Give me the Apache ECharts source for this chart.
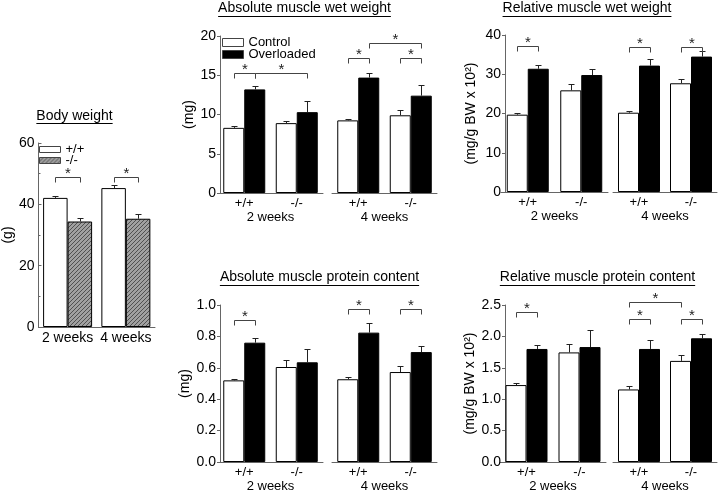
<!DOCTYPE html>
<html><head><meta charset="utf-8">
<script src="https://cdn.jsdelivr.net/npm/echarts@6/dist/echarts.min.js"></script>
<style>html,body{margin:0;padding:0;background:#fff}#c{width:722px;height:495px}</style>
</head><body><div id="c"></div>
<script>
const FONT = '"Liberation Sans", Arial, sans-serif';

// ---------- DATA ----------
const bwCategories = ['2 weeks', '4 weeks'];
const bwWT = [42.1, 45.3];
const bwWTErr = [0.7, 1.0];
const bwKO = [34.4, 35.3];
const bwKOErr = [1.3, 1.4];
const bwBrackets = [[0, 0, 0, 1, 48.9], [1, 0, 1, 1, 48.9]];

const genotypes = ['+/+', '-/-'];
const weekLabels = ['2 weeks', '4 weeks'];

const absWet2wkCtrl = [8.3, 8.9],   absWet2wkCtrlErr = [0.2, 0.3];
const absWet2wkOvl  = [13.2, 10.3], absWet2wkOvlErr  = [0.4, 1.4];
const absWet4wkCtrl = [9.25, 9.9],  absWet4wkCtrlErr = [0.15, 0.65];
const absWet4wkOvl  = [14.7, 12.4], absWet4wkOvlErr  = [0.6, 1.3];
const absWet2wkBrackets = [[0, 0, 0, 1, 15.3], [0, 1, 1, 1, 15.3]];
const absWet4wkBrackets = [[0, 0, 0, 1, 17.15], [1, 0, 1, 1, 17.15], [0, 1, 1, 1, 19.15]];

const relWet2wkCtrl = [19.7, 25.9], relWet2wkCtrlErr = [0.4, 1.5];
const relWet2wkOvl  = [31.4, 29.8], relWet2wkOvlErr  = [1.0, 1.6];
const relWet4wkCtrl = [20.2, 27.7], relWet4wkCtrlErr = [0.4, 1.2];
const relWet4wkOvl  = [32.2, 34.5], relWet4wkOvlErr  = [1.6, 1.4];
const relWet2wkBrackets = [[0, 0, 0, 1, 37.2]];
const relWet4wkBrackets = [[0, 0, 0, 1, 36.9], [1, 0, 1, 1, 36.9]];

const absProt2wkCtrl = [0.52, 0.605], absProt2wkCtrlErr = [0.01, 0.045];
const absProt2wkOvl  = [0.76, 0.635], absProt2wkOvlErr  = [0.03, 0.085];
const absProt4wkCtrl = [0.527, 0.573], absProt4wkCtrlErr = [0.016, 0.04];
const absProt4wkOvl  = [0.824, 0.70], absProt4wkOvlErr  = [0.06, 0.04];
const absProt2wkBrackets = [[0, 0, 0, 1, 0.904]];
const absProt4wkBrackets = [[0, 0, 0, 1, 0.975], [1, 0, 1, 1, 0.975]];

const relProt2wkCtrl = [1.225, 1.745], relProt2wkCtrlErr = [0.03, 0.14];
const relProt2wkOvl  = [1.80, 1.83],   relProt2wkOvlErr  = [0.07, 0.27];
const relProt4wkCtrl = [1.155, 1.61],  relProt4wkCtrlErr = [0.05, 0.09];
const relProt4wkOvl  = [1.80, 1.97],   relProt4wkOvlErr  = [0.14, 0.065];
const relProt2wkBrackets = [[0, 0, 0, 1, 2.39]];
const relProt4wkBrackets = [[0, 0, 0, 1, 2.27], [1, 0, 1, 1, 2.27], [0, 0, 1, 0, 2.54]];

const titles = ['Body weight', 'Absolute muscle wet weight', 'Relative muscle wet weight',
                'Absolute muscle protein content', 'Relative muscle protein content'];

// ---------- HELPERS ----------
function makeHatch() {
  const c = document.createElement('canvas'); c.width = 4; c.height = 4;
  const g = c.getContext('2d');
  g.fillStyle = '#a0a0a0'; g.fillRect(0, 0, 4, 4);
  g.strokeStyle = '#505050'; g.lineWidth = 1;
  g.beginPath();
  g.moveTo(0, 4); g.lineTo(4, 0);
  g.moveTo(-1, 1); g.lineTo(1, -1);
  g.moveTo(3, 5); g.lineTo(5, 3);
  g.stroke();
  return c;
}
const hatch = { image: makeHatch(), repeat: 'repeat' };

function measure(text, font) {
  const c = document.createElement('canvas').getContext('2d');
  c.font = font; return c.measureText(text).width;
}

function errRender(bw) {
  return function (params, api) {
    const cat = api.value(0), v = api.value(1), e = api.value(2), b = api.value(3);
    const p0 = api.coord([cat, v]), p1 = api.coord([cat, v + e]);
    const x = Math.round(p0[0] + (b === 0 ? -1 : 1) * bw / 2) + 0.5;
    const y1 = Math.round(p1[1]) + 0.5;
    return { type: 'group', children: [
      { type: 'line', shape: { x1: x, y1: p0[1], x2: x, y2: y1 }, style: { stroke: '#222', lineWidth: 1 } },
      { type: 'line', shape: { x1: x - 3, y1: y1, x2: x + 3, y2: y1 }, style: { stroke: '#222', lineWidth: 1 } }
    ] };
  };
}
function bracketRender(bw) {
  return function (params, api) {
    const ca = api.value(0), ba = api.value(1), cb = api.value(2), bb = api.value(3), y = api.value(4);
    const pa = api.coord([ca, y]), pb = api.coord([cb, y]);
    const xa = Math.round(pa[0] + (ba === 0 ? -1 : 1) * bw / 2) + 0.5;
    const xb = Math.round(pb[0] + (bb === 0 ? -1 : 1) * bw / 2) + 0.5;
    const yy = Math.round(pa[1]) + 0.5;
    return { type: 'group', children: [
      { type: 'polyline', shape: { points: [[xa, yy + 5], [xa, yy], [xb, yy], [xb, yy + 5]] },
        style: { stroke: '#444', fill: null, lineWidth: 1 } },
      { type: 'text', style: { text: '*', x: (xa + xb) / 2, y: yy - 11, align: 'center', verticalAlign: 'top',
        font: '15px ' + FONT, fill: '#222' } }
    ] };
  };
}

const grids = [], xAxes = [], yAxes = [], series = [];

function addPart(o) {
  const gi = grids.length;
  grids.push(Object.assign({ containLabel: false }, o.grid));
  xAxes.push({
    type: 'category', gridIndex: gi, data: o.cats,
    axisLine: { lineStyle: { color: '#666', width: 1 } },
    axisTick: { show: false },
    axisLabel: { interval: 0, color: '#000', fontSize: o.xFont || 13, fontFamily: FONT, margin: o.xMargin || 4 },
    name: o.xName || '', nameLocation: 'middle', nameGap: 15,
    nameTextStyle: { color: '#000', fontSize: 13, fontFamily: FONT }
  });
  yAxes.push({
    type: 'value', gridIndex: gi, min: o.min, max: o.max, interval: o.interval, show: o.showY,
    offset: o.yOffset || 0,
    splitLine: { show: false },
    axisLine: { show: true, lineStyle: { color: '#666', width: 1 } },
    axisTick: { show: true, inside: !!o.tickInside, length: 3, lineStyle: { color: '#666' } },
    minorTick: { show: !!o.minor, splitNumber: 2, length: 2, lineStyle: { color: '#666' } },
    axisLabel: { color: '#000', fontSize: 14, fontFamily: FONT, margin: 4,
      formatter: o.decimals ? (v => v.toFixed(o.decimals)) : (v => String(v)) },
    name: o.yName || '', nameLocation: 'middle', nameGap: o.yNameGap || 23,
    nameTextStyle: { color: '#000', fontSize: 14, fontFamily: FONT }
  });
  const bw = o.barWidth;
  const names = o.names || ['Control', 'Overloaded'];
  const fills = o.fills || ['#fff', '#000'];
  [0, 1].forEach(k => {
    series.push({
      type: 'bar', name: names[k], xAxisIndex: gi, yAxisIndex: gi, data: o.vals[k],
      barWidth: bw, barGap: '0%', silent: true,
      itemStyle: { color: fills[k], borderColor: '#000', borderWidth: 1 }
    });
  });
  const errData = [];
  [0, 1].forEach(k => o.vals[k].forEach((v, i) => errData.push([i, v, o.errs[k][i], k])));
  series.push({ type: 'custom', xAxisIndex: gi, yAxisIndex: gi, data: errData, renderItem: errRender(bw),
    encode: { x: 0, y: 1 }, silent: true, z: 3 });
  series.push({ type: 'custom', xAxisIndex: gi, yAxisIndex: gi, data: o.brackets, renderItem: bracketRender(bw),
    encode: { x: 0, y: 4 }, silent: true, clip: false, z: 3 });
}

// Body weight
addPart({ grid: { left: 33, top: 143, width: 122, height: 184 }, cats: bwCategories, xFont: 14,
  min: 0, max: 60, interval: 20, showY: true, tickInside: true, minor: true, yName: '(g)', yNameGap: 23,
  barWidth: 24.5, names: ['+/+', '-/-'], fills: ['#fff', hatch],
  vals: [bwWT, bwKO], errs: [bwWTErr, bwKOErr], brackets: bwBrackets });

// Absolute wet weight
addPart({ grid: { left: 218, top: 36, width: 105, height: 157 }, cats: genotypes, xName: weekLabels[0],
  min: 0, max: 20, interval: 5, showY: true, yOffset: -2, yName: '(mg)', barWidth: 21,
  vals: [absWet2wkCtrl, absWet2wkOvl], errs: [absWet2wkCtrlErr, absWet2wkOvlErr], brackets: absWet2wkBrackets });
addPart({ grid: { left: 332, top: 36, width: 105, height: 157 }, cats: genotypes, xName: weekLabels[1],
  min: 0, max: 20, interval: 5, showY: false, barWidth: 21,
  vals: [absWet4wkCtrl, absWet4wkOvl], errs: [absWet4wkCtrlErr, absWet4wkOvlErr], brackets: absWet4wkBrackets });

// Relative wet weight
addPart({ grid: { left: 501, top: 35, width: 107, height: 157 }, cats: genotypes, xName: weekLabels[0],
  min: 0, max: 40, interval: 10, showY: true, yOffset: -4, yName: '(mg/g BW x 10²)', yNameGap: 27, barWidth: 21,
  vals: [relWet2wkCtrl, relWet2wkOvl], errs: [relWet2wkCtrlErr, relWet2wkOvlErr], brackets: relWet2wkBrackets });
addPart({ grid: { left: 613, top: 35, width: 104, height: 157 }, cats: genotypes, xName: weekLabels[1],
  min: 0, max: 40, interval: 10, showY: false, barWidth: 21,
  vals: [relWet4wkCtrl, relWet4wkOvl], errs: [relWet4wkCtrlErr, relWet4wkOvlErr], brackets: relWet4wkBrackets });

// Absolute protein
addPart({ grid: { left: 218, top: 305, width: 105, height: 157 }, cats: genotypes, xName: weekLabels[0],
  min: 0, max: 1, interval: 0.2, decimals: 1, showY: true, yOffset: -2, yName: '(mg)', barWidth: 21,
  vals: [absProt2wkCtrl, absProt2wkOvl], errs: [absProt2wkCtrlErr, absProt2wkOvlErr], brackets: absProt2wkBrackets });
addPart({ grid: { left: 332, top: 305, width: 105, height: 157 }, cats: genotypes, xName: weekLabels[1],
  min: 0, max: 1, interval: 0.2, showY: false, barWidth: 21,
  vals: [absProt4wkCtrl, absProt4wkOvl], errs: [absProt4wkCtrlErr, absProt4wkOvlErr], brackets: absProt4wkBrackets });

// Relative protein
addPart({ grid: { left: 500, top: 305, width: 106, height: 157 }, cats: genotypes, xName: weekLabels[0],
  min: 0, max: 2.5, interval: 0.5, decimals: 1, showY: true, yOffset: -5, yName: '(mg/g BW x 10²)', yNameGap: 27, barWidth: 21,
  vals: [relProt2wkCtrl, relProt2wkOvl], errs: [relProt2wkCtrlErr, relProt2wkOvlErr], brackets: relProt2wkBrackets });
addPart({ grid: { left: 613, top: 305, width: 104, height: 157 }, cats: genotypes, xName: weekLabels[1],
  min: 0, max: 2.5, interval: 0.5, showY: false, barWidth: 21,
  vals: [relProt4wkCtrl, relProt4wkOvl], errs: [relProt4wkCtrlErr, relProt4wkOvlErr], brackets: relProt4wkBrackets });

// Titles (underlined)
const titlePos = [[74.5, 116], [304.5, 8.5], [587, 8.5], [319.5, 277.5], [597.5, 277.5]];
const graphics = [];
titles.forEach((t, i) => {
  const [cx, cy] = titlePos[i];
  const w = measure(t, '14px ' + FONT);
  graphics.push({ type: 'text', x: cx, y: cy, silent: true,
    style: { text: t, align: 'center', verticalAlign: 'middle', font: '14px ' + FONT, fill: '#000' } });
  graphics.push({ type: 'line', silent: true,
    shape: { x1: cx - w / 2, y1: Math.round(cy + 7) + 0.5, x2: cx + w / 2, y2: Math.round(cy + 7) + 0.5 },
    style: { stroke: '#000', lineWidth: 1 } });
});

const chart = echarts.init(document.getElementById('c'), null, { renderer: 'canvas' });
chart.setOption({
  animation: false,
  backgroundColor: '#fff',
  grid: grids, xAxis: xAxes, yAxis: yAxes, series: series,
  legend: [
    { data: ['Control', 'Overloaded'], orient: 'vertical', left: 222, top: 36, padding: 0,
      itemWidth: 21, itemHeight: 8, itemGap: -1, selectedMode: false, icon: 'rect',
      itemStyle: { borderWidth: 1, borderColor: '#444' },
      textStyle: { fontSize: 13, lineHeight: 12, fontFamily: FONT, color: '#000' } },
    { data: ['+/+', '-/-'], orient: 'vertical', left: 39, top: 143, padding: 0,
      itemWidth: 21, itemHeight: 6, itemGap: -2, selectedMode: false, icon: 'rect',
      itemStyle: { borderWidth: 1, borderColor: '#444' },
      textStyle: { fontSize: 13, lineHeight: 12, fontFamily: FONT, color: '#000' } }
  ],
  graphic: graphics
});
</script>
</body></html>
